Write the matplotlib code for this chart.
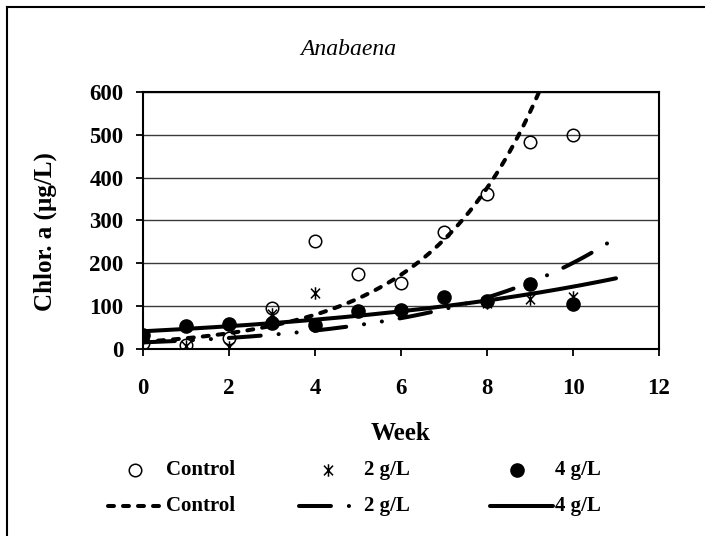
import numpy as np
import matplotlib
matplotlib.use("Agg")
import matplotlib.pyplot as plt
from matplotlib.path import Path
from matplotlib.lines import Line2D

plt.rcParams["font.family"] = ["Liberation Serif", "DejaVu Serif"]
plt.rcParams["font.weight"] = "bold"
plt.rcParams["lines.scale_dashes"] = False

# --- data -----------------------------------------------------------------
weeks = np.arange(0, 11)
control = [15, 10, 26, 96, 251, 176, 153, 274, 362, 483, 499]
dose_2g = [25, 8, 5, 82, 131, 88, 90, 122, 108, 117, 121]
dose_4g = [33, 53, 58, 60, 57, 89, 92, 121, 113, 152, 104]
series_names = ["Control", "2 g/L", "4 g/L"]
x_ticks = [0, 2, 4, 6, 8, 10, 12]
y_ticks = [0, 100, 200, 300, 400, 500, 600]

W, H = 705, 536
fig = plt.figure(figsize=(W / 100, H / 100), dpi=100)
fig.patch.set_facecolor("white")


def fx(px):
    return px / W


def fy(py):
    return 1 - py / H


ax = fig.add_axes([fx(143), fy(349), fx(659) - fx(143), fy(92) - fy(349)])

# asterisk marker: an X with a vertical bar through it
star_path = Path(
    [(0, -1), (0, 1), (-0.72, -0.78), (0.72, 0.78), (-0.72, 0.78), (0.72, -0.78)],
    [Path.MOVETO, Path.LINETO, Path.MOVETO, Path.LINETO, Path.MOVETO, Path.LINETO],
)

circ_style = dict(ls="none", marker="o", ms=9, mfc="none", mec="black", mew=1.1)
star_style = dict(ls="none", marker=star_path, ms=9, mfc="none", mec="black", mew=1.1)
fill_style = dict(ls="none", marker="o", ms=9.5, mfc="black", mec="black", mew=1.0)

ax.plot(weeks, control, zorder=3, **circ_style)
ax.plot(weeks, dose_2g, zorder=3, **star_style)
ax.plot(weeks, dose_4g, zorder=3, **fill_style)

# exponential trendlines, fitted on log values and extended one week
lw_tr = 2.9
ctrl_dash = dict(color="black", lw=lw_tr, dashes=(4.3, 6.5), dash_capstyle="round")
g2_dash = dict(color="black", lw=lw_tr, dashes=(23, 12.9, 0.1, 12.9, 0.1, 12.9),
               dash_capstyle="round")
g4_solid = dict(color="black", lw=lw_tr, solid_capstyle="round")

xt = np.linspace(0, 11, 300)
for vals, style in [(control, ctrl_dash), (dose_2g, g2_dash), (dose_4g, g4_solid)]:
    b, ln_a = np.polyfit(weeks, np.log(vals), 1)
    ax.plot(xt, np.exp(ln_a) * np.exp(b * xt), zorder=4, **style)

ax.set_xlim(0, 12)
ax.set_ylim(0, 600)
ax.set_xticks(x_ticks)
ax.set_yticks(y_ticks)
ax.set_xticklabels([str(v) for v in x_ticks], fontsize=16.5, fontweight="bold")
ax.set_yticklabels([str(v) for v in y_ticks], fontsize=16.5, fontweight="bold")
ax.tick_params(axis="both", direction="out", length=5, width=1.3, color="black")
ax.tick_params(axis="x", pad=16)
ax.tick_params(axis="y", pad=9)
ax.yaxis.grid(True, color="#3a3a3a", lw=1.0)
ax.set_axisbelow(True)
for side in ["left", "bottom", "top", "right"]:
    ax.spines[side].set_color("black")
    ax.spines[side].set_linewidth(1.5)

fig.text(fx(348), fy(55), "Anabaena", ha="center", va="baseline",
         fontsize=17, fontstyle="italic", fontweight="normal")
fig.text(fx(45), fy(232), "Chlor. a (µg/L)", rotation=90, ha="center", va="center",
         fontsize=18, fontweight="bold")
fig.text(fx(400), fy(433), "Week", ha="center", va="center", fontsize=18, fontweight="bold")

# legend: markers on the first row, trendlines on the second
row1, row2 = 470, 506
marker_x = [135, 328, 517]
text_x = [166, 364, 555]
for mx, tx, style, name in zip(marker_x, text_x, [circ_style, star_style, fill_style],
                               series_names):
    fig.add_artist(Line2D([fx(mx)], [fy(row1)], transform=fig.transFigure, **style))
    fig.text(fx(tx), fy(row1), name, ha="left", va="center", fontsize=15, fontweight="bold")

line_spans = [(108, 164), (299, 360), (490, 553)]
for (x0, x1), tx, style, name in zip(line_spans, text_x, [ctrl_dash, g2_dash, g4_solid],
                                     series_names):
    fig.add_artist(Line2D([fx(x0), fx(x1)], [fy(row2), fy(row2)],
                          transform=fig.transFigure, **style))
    fig.text(fx(tx), fy(row2), name, ha="left", va="center", fontsize=15, fontweight="bold")

# chart area frame
fig.add_artist(Line2D([fx(7), fx(7)], [fy(7), fy(H + 5)], transform=fig.transFigure,
                      color="black", lw=1.5))
fig.add_artist(Line2D([fx(7), fx(W + 5)], [fy(7), fy(7)], transform=fig.transFigure,
                      color="black", lw=1.5))

fig.savefig("out.png", dpi=100, facecolor="white")
